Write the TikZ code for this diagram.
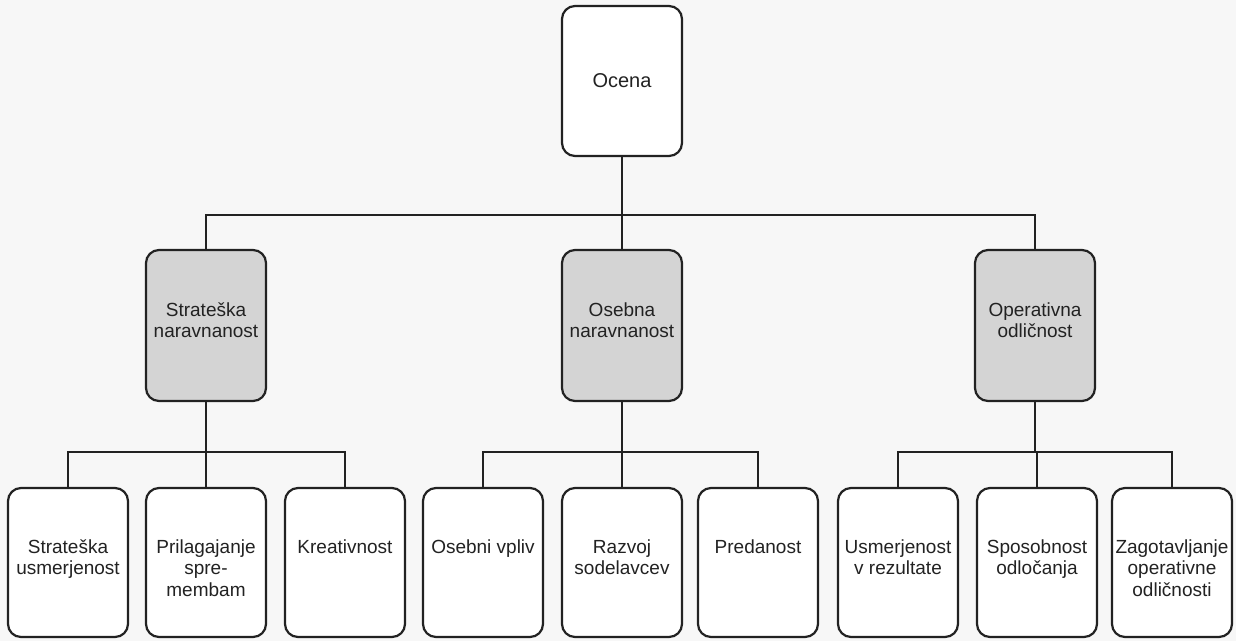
\documentclass[tikz,border=0pt]{standalone}
\usepackage{fontspec}
\setmainfont{Liberation Sans}
\definecolor{ink}{RGB}{34,34,34}
\definecolor{shade}{RGB}{212,212,212}
\definecolor{paper}{RGB}{247,247,247}
\begin{document}
\begin{tikzpicture}[x=1pt,y=-1pt,
  box/.style={draw=ink, line width=2.2pt, rounded corners=13pt, minimum width=120pt,
              inner sep=0pt, outer sep=0pt},
  topbox/.style={box, fill=white, minimum height=150pt},
  midbox/.style={box, fill=shade, minimum height=151pt},
  leafbox/.style={box, fill=white, minimum height=149pt},
  lbl/.style={text=ink, align=center, inner sep=0pt, anchor=north,
              font=\fontsize{19}{21.5}\selectfont},
  wire/.style={draw=ink, line width=2.8pt}]
  \useasboundingbox[fill=paper] (0,0) rectangle (1236,641);

  % root
  \node[topbox, font=\fontsize{20}{24}\selectfont, text=ink] (root) at (622,81) {Ocena};

  % second level
  \node[midbox] (m1) at (206,325.5) {};
  \node[midbox] (m2) at (622,325.5) {};
  \node[midbox] (m3) at (1035,325.5) {};
  \node[lbl] at ([yshift=-50]m1.north) {\rule{0pt}{16pt}Strateška\\naravnanost};
  \node[lbl] at ([yshift=-50]m2.north) {\rule{0pt}{16pt}Osebna\\naravnanost};
  \node[lbl] at ([yshift=-50]m3.north) {\rule{0pt}{16pt}Operativna\\odličnost};

  % third level
  \foreach \n/\x in {a/68,b/206,c/345,d/483,e/622,f/758,g/898,h/1037,i/1172}
    \node[leafbox] (\n) at (\x,562.5) {};
  \node[lbl] at ([yshift=-49]a.north) {\rule{0pt}{16pt}Strateška\\usmerjenost};
  \node[lbl] at ([yshift=-49]b.north) {\rule{0pt}{16pt}Prilagajanje\\spre-\\membam};
  \node[lbl] at ([yshift=-49]c.north) {\rule{0pt}{16pt}Kreativnost};
  \node[lbl] at ([yshift=-49]d.north) {\rule{0pt}{16pt}Osebni vpliv};
  \node[lbl] at ([yshift=-49]e.north) {\rule{0pt}{16pt}Razvoj\\sodelavcev};
  \node[lbl] at ([yshift=-49]f.north) {\rule{0pt}{16pt}Predanost};
  \node[lbl] at ([yshift=-49]g.north) {\rule{0pt}{16pt}Usmerjenost\\v rezultate};
  \node[lbl] at ([yshift=-49]h.north) {\rule{0pt}{16pt}Sposobnost\\odločanja};
  \node[lbl] at ([yshift=-49]i.north) {\rule{0pt}{16pt}Zagotavljanje\\operativne\\odličnosti};

  % junctions of the connector buses
  \coordinate (j0) at (622,215);
  \coordinate (j1) at (206,452);
  \coordinate (j2) at (622,452);
  \coordinate (j3) at (1035,452);

  % root to second level
  \draw[wire] (root.south) -- (j0);
  \draw[wire] (j0) -| (m1.north);
  \draw[wire] (j0) -- (m2.north);
  \draw[wire] (j0) -| (m3.north);

  % second level to leaves
  \draw[wire] (m1.south) -- (j1);
  \draw[wire] (j1) -| (a.north);
  \draw[wire] (j1) -- (b.north);
  \draw[wire] (j1) -| (c.north);

  \draw[wire] (m2.south) -- (j2);
  \draw[wire] (j2) -| (d.north);
  \draw[wire] (j2) -- (e.north);
  \draw[wire] (j2) -| (f.north);

  \draw[wire] (m3.south) -- (j3);
  \draw[wire] (j3) -| (g.north);
  \draw[wire] (j3) -| (h.north);
  \draw[wire] (j3) -| (i.north);
\end{tikzpicture}
\end{document}
